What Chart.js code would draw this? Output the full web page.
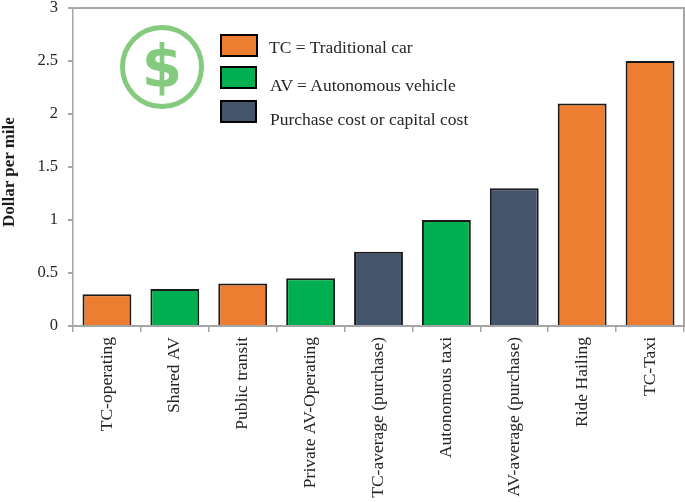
<!DOCTYPE html>
<html>
<head>
<meta charset="utf-8">
<title>Dollar per mile</title>
<script src="https://cdn.jsdelivr.net/npm/chart.js@4"></script>
<style>
  html, body { margin: 0; padding: 0; background: #fff; }
  #wrap { position: relative; width: 685px; height: 502px; overflow: hidden; }
  canvas { display: block; }
  .swatch { position: absolute; box-sizing: border-box; border: 2px solid #000; }
  .note { position: absolute; font: 17.5px "Liberation Serif", serif; color: #262626; white-space: nowrap; line-height: 18px; }
  #icon { position: absolute; left: 120px; top: 25px; width: 74px; height: 74px; border: 5px solid #85cb7f; border-radius: 50%;
    color: #85cb7f; font: bold 58px/74px "DejaVu Sans", sans-serif; text-align: center; }
  #ytitle { position: absolute; left: 0; top: 116px; height: 112px; line-height: 17px; writing-mode: vertical-rl; transform: rotate(180deg);
    font: bold 17px/17px "Liberation Serif", serif; color: #1a1a1a; text-align: center; white-space: nowrap; }
</style>
</head>
<body>
<div id="wrap">
  <canvas id="chart-bars" width="685" height="502"></canvas>
  <div id="icon">$</div>
  <div id="ytitle">Dollar per mile</div>
  <div class="swatch" style="left:220px;top:34px;width:38px;height:23px;background:#ed7d31"></div>
  <div class="swatch" style="left:220px;top:66px;width:37px;height:23px;background:#00b050"></div>
  <div class="swatch" style="left:220px;top:100px;width:37px;height:23px;background:#44546a"></div>
  <div class="note" style="left:269px;top:38px">TC = Traditional car</div>
  <div class="note" style="left:270px;top:76px">AV = Autonomous vehicle</div>
  <div class="note" style="left:270px;top:110px">Purchase cost or capital cost</div>
</div>
<script>
const categories = ['TC-operating', 'Shared AV', 'Public transit', 'Private AV-Operating', 'TC-average (purchase)', 'Autonomous taxi', 'AV-average (purchase)', 'Ride Hailing', 'TC-Taxi'];
const values = [0.3, 0.35, 0.4, 0.45, 0.7, 1, 1.3, 2.1, 2.5];
const barColors = ['#ed7d31', '#00b050', '#ed7d31', '#00b050', '#44546a', '#00b050', '#44546a', '#ed7d31', '#ed7d31'];

const axisColor = '#a6a6a6';
const serif = '"Liberation Serif", serif';

new Chart(document.getElementById('chart-bars').getContext('2d'), {
  type: 'bar',
  data: {
    labels: categories,
    datasets: [{
      data: values,
      backgroundColor: barColors,
      borderColor: '#1a1a1a',
      borderWidth: 2,
      barPercentage: 0.72,
      categoryPercentage: 1
    }]
  },
  options: {
    responsive: false,
    animation: false,
    layout: { padding: { top: 8, right: 1, left: 0, bottom: 0 } },
    plugins: { legend: { display: false }, tooltip: { enabled: false } },
    scales: {
      x: {
        afterFit: (scale) => { scale.height = 176; },
        border: { color: axisColor, width: 2 },
        grid: { offset: true, drawOnChartArea: false, color: axisColor, lineWidth: 1.5, tickLength: 6 },
        ticks: { color: '#262626', font: { family: serif, size: 17.5 }, minRotation: 90, maxRotation: 90, autoSkip: false, padding: 5 }
      },
      y: {
        min: 0,
        max: 3,
        afterFit: (scale) => { scale.width = 73; scale.paddingTop = 0; scale.paddingBottom = 0; },
        border: { color: axisColor, width: 1.5 },
        grid: {
          color: (ctx) => ctx.tick.value === 3 ? axisColor : 'rgba(0,0,0,0)',
          lineWidth: 2,
          drawTicks: true,
          tickColor: axisColor,
          tickLength: 5
        },
        ticks: { stepSize: 0.5, color: '#262626', font: { family: serif, size: 16.5 }, padding: 10, callback: (v) => String(v) }
      },
      // empty axis, only there for the frame line on the right
      frame: {
        position: 'right',
        min: 0,
        max: 3,
        afterFit: (scale) => { scale.width = 0; scale.paddingTop = 0; scale.paddingBottom = 0; },
        border: { color: axisColor, width: 2 },
        grid: { display: false },
        ticks: { display: false }
      }
    }
  }
});
</script>
</body>
</html>
